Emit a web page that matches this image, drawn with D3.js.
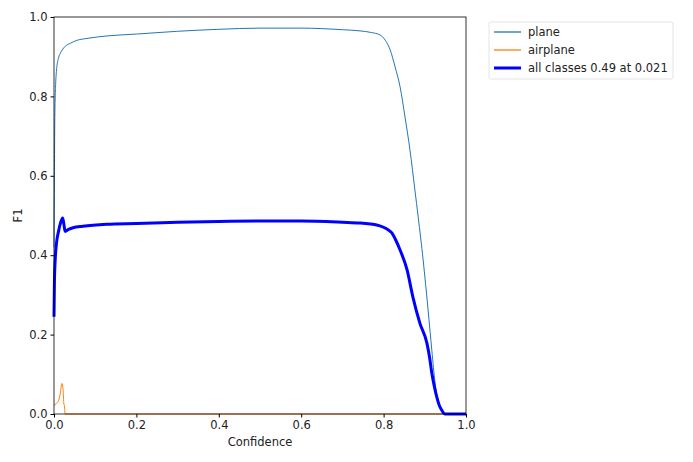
<!DOCTYPE html>
<html>
<head>
<meta charset="utf-8">
<script src="https://cdn.jsdelivr.net/npm/d3@7"></script>
<style>
  body { margin: 0; background: #fff; }
  text { font-family: "DejaVu Sans", sans-serif; }
</style>
</head>
<body>
<div id="chart"></div>
<script>
// Curve samples: [confidence, F1]
const planeCurve = [
    [0, 0.42], [0.001, 0.6], [0.002, 0.75], [0.004, 0.83], [0.0065, 0.87], [0.01, 0.893],
    [0.015, 0.908], [0.02, 0.917], [0.027, 0.926], [0.04, 0.934], [0.055, 0.941],
    [0.08, 0.946], [0.136, 0.953], [0.2, 0.957], [0.3, 0.964], [0.4, 0.969],
    [0.5, 0.972], [0.6, 0.972], [0.7, 0.968], [0.743, 0.965], [0.77, 0.961],
    [0.791, 0.955], [0.805, 0.94], [0.816, 0.917], [0.828, 0.874], [0.84, 0.824],
    [0.852, 0.748], [0.864, 0.665], [0.876, 0.564], [0.884, 0.496], [0.896, 0.388],
    [0.908, 0.262], [0.917, 0.161], [0.925, 0.078], [0.931, 0.04], [0.937, 0.018],
    [0.944, 0.005], [0.95, 0], [1.0, 0]
];
const airplaneCurve = [
    [0, 0.022], [0.005, 0.026], [0.01, 0.031], [0.015, 0.05], [0.019, 0.077],
    [0.022, 0.062], [0.024, 0.025], [0.025, 0.022], [0.026, 0.012], [0.027, 0], [1.0, 0]
];
const allCurve = [
    [0, 0.245], [0.001, 0.33], [0.003, 0.39], [0.006, 0.43], [0.011, 0.46],
    [0.016, 0.482], [0.021, 0.494], [0.024, 0.478], [0.027, 0.46], [0.035, 0.465],
    [0.046, 0.469], [0.07, 0.473], [0.128, 0.478], [0.2, 0.48], [0.3, 0.483],
    [0.4, 0.485], [0.5, 0.486], [0.6, 0.486], [0.7, 0.483], [0.743, 0.481],
    [0.791, 0.474], [0.808, 0.466], [0.82, 0.456], [0.83, 0.437], [0.84, 0.413],
    [0.857, 0.363], [0.871, 0.295], [0.888, 0.229], [0.905, 0.179], [0.912, 0.14],
    [0.917, 0.103], [0.923, 0.07], [0.929, 0.043], [0.935, 0.022], [0.941, 0.01],
    [0.949, 0], [1.0, 0]
];
const seriesNames = ['plane', 'airplane', 'all classes 0.49 at 0.021'];
const seriesColors = ['#1f77b4', '#ff7f0e', '#0000ff'];
const seriesWidths = [1, 1, 3];
const seriesData = [planeCurve, airplaneCurve, allCurve];
const tickValues = [0, 0.2, 0.4, 0.6, 0.8, 1.0];

const width = 693;
const height = 462;
const margin = { top: 17, right: 227, bottom: 48, left: 54 };

const svg = d3.select('#chart').append('svg')
    .attr('width', width)
    .attr('height', height);

const xScale = d3.scaleLinear()
    .domain([0, 1])
    .range([margin.left, width - margin.right]);

const yScale = d3.scaleLinear()
    .domain([0, 1])
    .range([height - margin.bottom, margin.top]);

const line = d3.line()
    .x(d => xScale(d[0]))
    .y(d => yScale(d[1]))
    .curve(d3.curveMonotoneX);

// Curves (drawn in order so all classes sits on top)
seriesData.forEach((curve, i) => {
    svg.append('path')
        .datum(curve)
        .attr('fill', 'none')
        .attr('stroke', seriesColors[i])
        .attr('stroke-width', seriesWidths[i])
        .attr('stroke-linejoin', 'round')
        .attr('d', line);
});

// Axes
const xAxis = d3.axisBottom(xScale).tickValues(tickValues).tickFormat(d3.format('.1f')).tickSize(3.5).tickPadding(3);
svg.append('g')
    .attr('transform', `translate(0,${height - margin.bottom})`)
    .call(xAxis)
    .call(g => g.select('.domain').remove())
    .call(g => g.selectAll('text').attr('font-size', 11.5).attr('fill', '#222'));

const yAxis = d3.axisLeft(yScale).tickValues(tickValues).tickFormat(d3.format('.1f')).tickSize(3.5).tickPadding(3);
svg.append('g')
    .attr('transform', `translate(${margin.left},0)`)
    .call(yAxis)
    .call(g => g.select('.domain').remove())
    .call(g => g.selectAll('text').attr('font-size', 11.5).attr('fill', '#222'));

// Spines
svg.append('rect')
    .attr('x', xScale(0))
    .attr('y', yScale(1))
    .attr('width', xScale(1) - xScale(0))
    .attr('height', yScale(0) - yScale(1))
    .attr('fill', 'none')
    .attr('stroke', '#000')
    .attr('stroke-width', 0.8);

// Axis labels
svg.append('text')
    .attr('x', (xScale(0) + xScale(1)) / 2)
    .attr('y', 446)
    .attr('text-anchor', 'middle')
    .attr('font-size', 11.5)
    .attr('fill', '#222')
    .text('Confidence');

svg.append('text')
    .attr('transform', `translate(22,${(yScale(0) + yScale(1)) / 2}) rotate(-90)`)
    .attr('text-anchor', 'middle')
    .attr('font-size', 11.5)
    .attr('fill', '#222')
    .text('F1');

// Legend
const legend = svg.append('g').attr('transform', 'translate(489,22)');
legend.append('rect')
    .attr('width', 184)
    .attr('height', 57)
    .attr('rx', 2)
    .attr('fill', '#fff')
    .attr('stroke', '#ddd')
    .attr('stroke-width', 0.8);

seriesNames.forEach((name, i) => {
    const y = 10 + i * 18;
    legend.append('line')
        .attr('x1', 5).attr('x2', 32)
        .attr('y1', y).attr('y2', y)
        .attr('stroke', seriesColors[i])
        .attr('stroke-width', seriesWidths[i] + (i < 2 ? 0.3 : 0));
    legend.append('text')
        .attr('x', 39)
        .attr('y', y + 4)
        .attr('font-size', 11.5)
        .attr('fill', '#222')
        .text(name);
});
</script>
</body>
</html>
